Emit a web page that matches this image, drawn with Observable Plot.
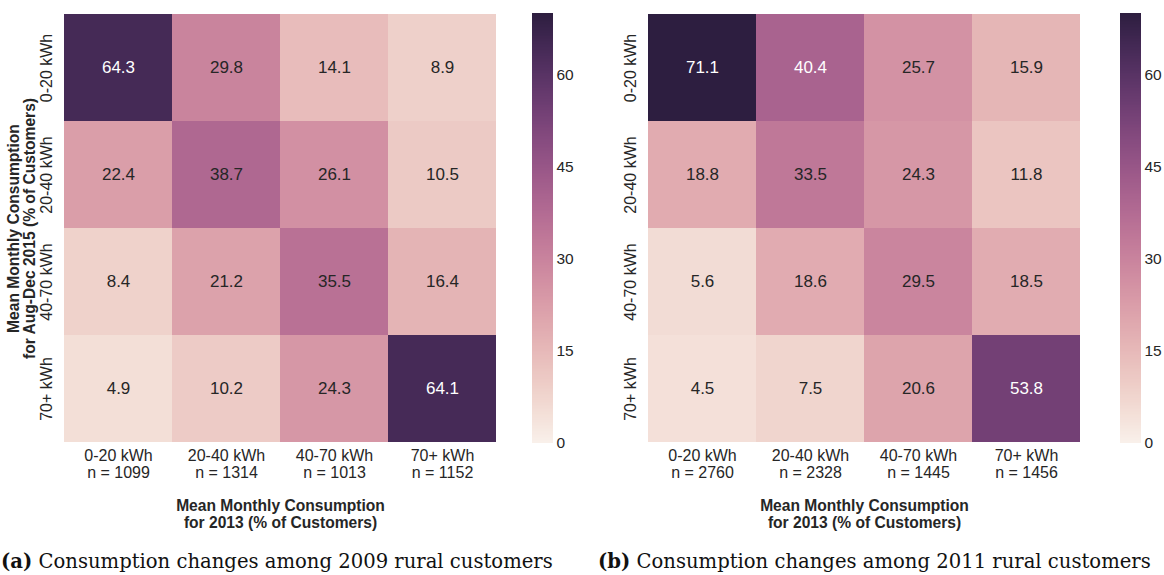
<!DOCTYPE html>
<html>
<head>
<meta charset="utf-8">
<script src="https://cdn.jsdelivr.net/npm/d3@7"></script>
<script src="https://cdn.jsdelivr.net/npm/@observablehq/plot@0.6"></script>
<style>
  html, body { margin: 0; padding: 0; background: #fff; }
  #root { position: relative; width: 1164px; height: 575px; overflow: hidden; background: #fff; }
  .abs { position: absolute; overflow: visible; }
  .abs svg { max-width: none !important; overflow: visible; }
  .cap { position: absolute; top: 550px; font-family: "DejaVu Serif", serif; font-size: 19.6px; color: #111; white-space: nowrap; }
</style>
</head>
<body>
<div id="root">
  <div id="heatA" class="abs" style="left:0px;top:0px;width:500px;height:540px"></div>
  <div id="barA" class="abs" style="left:532px;top:0px;width:60px;height:540px"></div>
  <div id="heatB" class="abs" style="left:584px;top:0px;width:500px;height:540px"></div>
  <div id="barB" class="abs" style="left:1120px;top:0px;width:60px;height:540px"></div>
  <div id="capA" class="cap" style="left:1px"></div>
  <div id="capB" class="cap" style="left:598px"></div>
</div>
<script>
// ---- data ----
const rows = ["0-20 kWh", "20-40 kWh", "40-70 kWh", "70+ kWh"];      // Aug-Dec 2015 category (y)
const cols = ["0-20 kWh", "20-40 kWh", "40-70 kWh", "70+ kWh"];      // 2013 category (x)
const countsA = [1099, 1314, 1013, 1152];
const countsB = [2760, 2328, 1445, 1456];
const valuesA = [
  [64.3, 29.8, 14.1, 8.9],
  [22.4, 38.7, 26.1, 10.5],
  [8.4, 21.2, 35.5, 16.4],
  [4.9, 10.2, 24.3, 64.1]
];
const valuesB = [
  [71.1, 40.4, 25.7, 15.9],
  [18.8, 33.5, 24.3, 11.8],
  [5.6, 18.6, 29.5, 18.5],
  [4.5, 7.5, 20.6, 53.8]
];
const colorbarTicks = [0, 15, 30, 45, 60];
const colorDomain = [0, 70];
const yTitle = "Mean Monthly Consumption\nfor Aug-Dec 2015 (% of Customers)";
const xTitle = "Mean Monthly Consumption\nfor 2013 (% of Customers)";
const captionA = ["(a)", "Consumption changes among 2009 rural customers"];
const captionB = ["(b)", "Consumption changes among 2011 rural customers"];

// ---- seaborn-like cubehelix colormap (light -> dark) ----
function cubehelix(t) {
  const light = 0.95, dark = 0.15, start = 0, rot = 0.4, hue = 0.85;
  const x = light + (dark - light) * t;
  const a = hue * x * (1 - x) / 2;
  const phi = 2 * Math.PI * (start / 3 + rot * x);
  const c = Math.cos(phi), s = Math.sin(phi);
  const cl = v => Math.max(0, Math.min(1, v)) * 255;
  const r = x + a * (-0.14861 * c + 1.78277 * s);
  const g = x + a * (-0.29227 * c - 0.90649 * s);
  const b = x + a * (1.97294 * c);
  return d3.rgb(cl(r), cl(g), cl(b)).formatHex();
}
const colorScale = {type: "linear", domain: colorDomain, interpolate: () => cubehelix, clamp: true};

const font = '"Liberation Sans", Arial, sans-serif';
const ink = "#262626";

function heatmap(values, counts, showYTitle) {
  const cells = [];
  rows.forEach((r, i) => cols.forEach((c, j) => cells.push({row: r, col: c, value: values[i][j]})));
  const darkText = d => d.value < 40;
  const marks = [
    Plot.cell(cells, {x: "col", y: "row", fill: "value", inset: 0, shapeRendering: "crispEdges"}),
    Plot.text(cells.filter(darkText), {x: "col", y: "row", text: d => d.value.toFixed(1), fill: ink, fontSize: 17}),
    Plot.text(cells.filter(d => !darkText(d)), {x: "col", y: "row", text: d => d.value.toFixed(1), fill: "white", fontSize: 17}),
    Plot.axisX({ticks: cols, tickSize: 0, tickPadding: 5, label: null, fill: ink, fontSize: 16, lineHeight: 1.06,
      tickFormat: d => `${d}\nn = ${counts[cols.indexOf(d)]}`}),
    Plot.text(rows, {y: d => d, text: d => d, frameAnchor: "left", dx: -18, rotate: -90, textAnchor: "middle", fill: ink, fontSize: 16}),
    Plot.text([xTitle], {frameAnchor: "bottom", dy: 56, lineAnchor: "top", fontWeight: "bold", fontSize: 15.6, lineHeight: 1.05, fill: ink})
  ];
  if (showYTitle) {
    marks.push(Plot.text([yTitle], {frameAnchor: "left", dx: -43, rotate: -90, textAnchor: "middle", lineAnchor: "middle", fontWeight: "bold", fontSize: 15.6, lineHeight: 1.05, fill: ink}));
  }
  return Plot.plot({
    width: 500, height: 540,
    marginLeft: 64, marginRight: 4, marginTop: 13, marginBottom: 97,
    style: {fontFamily: font, fontSize: "16px", color: ink, background: "transparent", overflow: "visible"},
    x: {type: "band", domain: cols, padding: 0, axis: null},
    y: {type: "band", domain: rows, padding: 0, axis: null},
    color: colorScale,
    marks
  });
}

function colorbar() {
  const step = 0.25;
  const ramp = d3.range(colorDomain[0], colorDomain[1], step);
  return Plot.plot({
    width: 60, height: 540,
    marginLeft: 0, marginRight: 39, marginTop: 13, marginBottom: 97,
    style: {fontFamily: font, fontSize: "15.5px", color: ink, background: "transparent", overflow: "visible"},
    x: {domain: [0, 1], axis: null},
    y: {domain: colorDomain, axis: null},
    color: colorScale,
    marks: [
      Plot.rect(ramp, {x1: 0, x2: 1, y1: d => d, y2: d => d + step, fill: d => d + step / 2, shapeRendering: "crispEdges"}),
      Plot.axisY({anchor: "right", ticks: colorbarTicks, tickSize: 0, tickPadding: 3, label: null, fill: ink, fontSize: 15.5})
    ]
  });
}

document.getElementById("heatA").appendChild(heatmap(valuesA, countsA, true));
document.getElementById("heatB").appendChild(heatmap(valuesB, countsB, false));
document.getElementById("barA").appendChild(colorbar());
document.getElementById("barB").appendChild(colorbar());

function caption(el, parts) {
  const b = document.createElement("b");
  b.textContent = parts[0];
  el.appendChild(b);
  el.appendChild(document.createTextNode(" " + parts[1]));
}
caption(document.getElementById("capA"), captionA);
caption(document.getElementById("capB"), captionB);
</script>
</body>
</html>
